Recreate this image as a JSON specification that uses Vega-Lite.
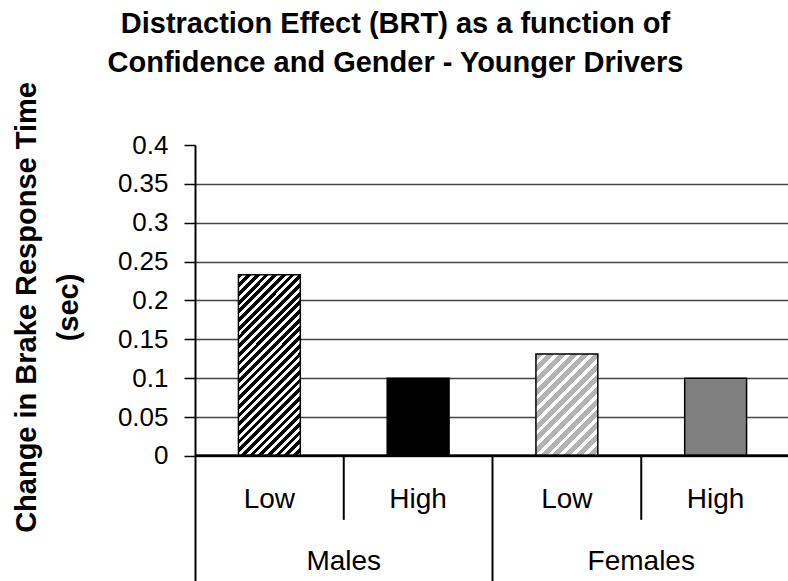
{
  "$schema": "https://vega.github.io/schema/vega-lite/v6.json",
  "autosize": {"type": "none"},
  "padding": {"left": 195, "top": 145, "right": 0, "bottom": 0},
  "width": 595,
  "height": 436,
  "background": "white",
  "config": {"font": "Liberation Sans", "view": {"stroke": null}},
  "title": {
    "text": ["Distraction Effect (BRT) as a function of", "Confidence and Gender - Younger Drivers"],
    "fontSize": 29,
    "fontWeight": "bold",
    "font": "Liberation Sans",
    "color": "#000000",
    "lineHeight": 39,
    "anchor": "middle",
    "frame": "bounds",
    "offset": 4,
    "dx": -6
  },
  "data": {
    "values": [
      {"gender": "Males", "confidence": "Low", "key": "Males Low", "brt": 0.233},
      {"gender": "Males", "confidence": "High", "key": "Males High", "brt": 0.1},
      {"gender": "Females", "confidence": "Low", "key": "Females Low", "brt": 0.131},
      {"gender": "Females", "confidence": "High", "key": "Females High", "brt": 0.1}
    ]
  },
  "layer": [
    {
      "mark": {"type": "bar", "width": {"band": 0.416}, "stroke": "#000000", "strokeWidth": 1.5},
      "encoding": {
        "x": {
          "field": "key", "type": "nominal", "axis": null,
          "scale": {"domain": ["Males Low", "Males High", "Females Low", "Females High"], "paddingInner": 0, "paddingOuter": 0}
        },
        "y": {
          "field": "brt", "type": "quantitative",
          "scale": {"domain": [-0.161, 0.4], "nice": false, "zero": false},
          "axis": {
            "values": [0, 0.05, 0.1, 0.15, 0.2, 0.25, 0.3, 0.35, 0.4],
            "format": "~g",
            "grid": true,
            "gridColor": "#444444",
            "gridWidth": 1.5,
            "gridOpacity": {"condition": {"test": "datum.value >= 0.39", "value": 0}, "value": 1},
            "domainColor": "#000000",
            "domainWidth": 2,
            "tickColor": "#000000",
            "tickWidth": 1.5,
            "tickSize": 11,
            "labelFontSize": 26,
            "labelColor": "#000000",
            "labelPadding": 16,
            "labelFlush": false,
            "labelOverlap": false,
            "title": ["Change in Brake Response Time", "(sec)"],
            "titleFontSize": 29,
            "titleFontWeight": "bold",
            "titleColor": "#000000",
            "titleAngle": 270,
            "titleAlign": "center",
            "titleBaseline": "alphabetic",
            "titleLineHeight": 42,
            "titleX": -160,
            "titleY": 162
          }
        },
        "fill": {
          "condition": [
            {"test": "datum.key === 'Males Low'", "value": {
              "gradient": "linear", "x1": 0, "y1": 0, "x2": 0.4116, "y2": 1.2016,
              "stops": [
                {"offset": 0, "color": "#000"}, {"offset": 0.0196, "color": "#000"}, {"offset": 0.0196, "color": "#fff"}, {"offset": 0.0357, "color": "#fff"},
                {"offset": 0.0357, "color": "#000"}, {"offset": 0.0554, "color": "#000"}, {"offset": 0.0554, "color": "#fff"}, {"offset": 0.0714, "color": "#fff"},
                {"offset": 0.0714, "color": "#000"}, {"offset": 0.0911, "color": "#000"}, {"offset": 0.0911, "color": "#fff"}, {"offset": 0.1071, "color": "#fff"},
                {"offset": 0.1071, "color": "#000"}, {"offset": 0.1268, "color": "#000"}, {"offset": 0.1268, "color": "#fff"}, {"offset": 0.1429, "color": "#fff"},
                {"offset": 0.1429, "color": "#000"}, {"offset": 0.1625, "color": "#000"}, {"offset": 0.1625, "color": "#fff"}, {"offset": 0.1786, "color": "#fff"},
                {"offset": 0.1786, "color": "#000"}, {"offset": 0.1982, "color": "#000"}, {"offset": 0.1982, "color": "#fff"}, {"offset": 0.2143, "color": "#fff"},
                {"offset": 0.2143, "color": "#000"}, {"offset": 0.2339, "color": "#000"}, {"offset": 0.2339, "color": "#fff"}, {"offset": 0.25, "color": "#fff"},
                {"offset": 0.25, "color": "#000"}, {"offset": 0.2696, "color": "#000"}, {"offset": 0.2696, "color": "#fff"}, {"offset": 0.2857, "color": "#fff"},
                {"offset": 0.2857, "color": "#000"}, {"offset": 0.3054, "color": "#000"}, {"offset": 0.3054, "color": "#fff"}, {"offset": 0.3214, "color": "#fff"},
                {"offset": 0.3214, "color": "#000"}, {"offset": 0.3411, "color": "#000"}, {"offset": 0.3411, "color": "#fff"}, {"offset": 0.3571, "color": "#fff"},
                {"offset": 0.3571, "color": "#000"}, {"offset": 0.3768, "color": "#000"}, {"offset": 0.3768, "color": "#fff"}, {"offset": 0.3929, "color": "#fff"},
                {"offset": 0.3929, "color": "#000"}, {"offset": 0.4125, "color": "#000"}, {"offset": 0.4125, "color": "#fff"}, {"offset": 0.4286, "color": "#fff"},
                {"offset": 0.4286, "color": "#000"}, {"offset": 0.4482, "color": "#000"}, {"offset": 0.4482, "color": "#fff"}, {"offset": 0.4643, "color": "#fff"},
                {"offset": 0.4643, "color": "#000"}, {"offset": 0.4839, "color": "#000"}, {"offset": 0.4839, "color": "#fff"}, {"offset": 0.5, "color": "#fff"},
                {"offset": 0.5, "color": "#000"}, {"offset": 0.5196, "color": "#000"}, {"offset": 0.5196, "color": "#fff"}, {"offset": 0.5357, "color": "#fff"},
                {"offset": 0.5357, "color": "#000"}, {"offset": 0.5554, "color": "#000"}, {"offset": 0.5554, "color": "#fff"}, {"offset": 0.5714, "color": "#fff"},
                {"offset": 0.5714, "color": "#000"}, {"offset": 0.5911, "color": "#000"}, {"offset": 0.5911, "color": "#fff"}, {"offset": 0.6071, "color": "#fff"},
                {"offset": 0.6071, "color": "#000"}, {"offset": 0.6268, "color": "#000"}, {"offset": 0.6268, "color": "#fff"}, {"offset": 0.6429, "color": "#fff"},
                {"offset": 0.6429, "color": "#000"}, {"offset": 0.6625, "color": "#000"}, {"offset": 0.6625, "color": "#fff"}, {"offset": 0.6786, "color": "#fff"},
                {"offset": 0.6786, "color": "#000"}, {"offset": 0.6982, "color": "#000"}, {"offset": 0.6982, "color": "#fff"}, {"offset": 0.7143, "color": "#fff"},
                {"offset": 0.7143, "color": "#000"}, {"offset": 0.7339, "color": "#000"}, {"offset": 0.7339, "color": "#fff"}, {"offset": 0.75, "color": "#fff"},
                {"offset": 0.75, "color": "#000"}, {"offset": 0.7696, "color": "#000"}, {"offset": 0.7696, "color": "#fff"}, {"offset": 0.7857, "color": "#fff"},
                {"offset": 0.7857, "color": "#000"}, {"offset": 0.8054, "color": "#000"}, {"offset": 0.8054, "color": "#fff"}, {"offset": 0.8214, "color": "#fff"},
                {"offset": 0.8214, "color": "#000"}, {"offset": 0.8411, "color": "#000"}, {"offset": 0.8411, "color": "#fff"}, {"offset": 0.8571, "color": "#fff"},
                {"offset": 0.8571, "color": "#000"}, {"offset": 0.8768, "color": "#000"}, {"offset": 0.8768, "color": "#fff"}, {"offset": 0.8929, "color": "#fff"},
                {"offset": 0.8929, "color": "#000"}, {"offset": 0.9125, "color": "#000"}, {"offset": 0.9125, "color": "#fff"}, {"offset": 0.9286, "color": "#fff"},
                {"offset": 0.9286, "color": "#000"}, {"offset": 0.9482, "color": "#000"}, {"offset": 0.9482, "color": "#fff"}, {"offset": 0.9643, "color": "#fff"},
                {"offset": 0.9643, "color": "#000"}, {"offset": 0.9839, "color": "#000"}, {"offset": 0.9839, "color": "#fff"}, {"offset": 1, "color": "#fff"}
              ]
            }},
            {"test": "datum.key === 'Males High'", "value": "#000000"},
            {"test": "datum.key === 'Females Low'", "value": {
              "gradient": "linear", "x1": 0, "y1": 0, "x2": 0.714, "y2": 1.174,
              "stops": [
                {"offset": 0, "color": "#b3b3b3"}, {"offset": 0.0429, "color": "#b3b3b3"}, {"offset": 0.0429, "color": "#fff"}, {"offset": 0.0714, "color": "#fff"},
                {"offset": 0.0714, "color": "#b3b3b3"}, {"offset": 0.1143, "color": "#b3b3b3"}, {"offset": 0.1143, "color": "#fff"}, {"offset": 0.1429, "color": "#fff"},
                {"offset": 0.1429, "color": "#b3b3b3"}, {"offset": 0.1857, "color": "#b3b3b3"}, {"offset": 0.1857, "color": "#fff"}, {"offset": 0.2143, "color": "#fff"},
                {"offset": 0.2143, "color": "#b3b3b3"}, {"offset": 0.2571, "color": "#b3b3b3"}, {"offset": 0.2571, "color": "#fff"}, {"offset": 0.2857, "color": "#fff"},
                {"offset": 0.2857, "color": "#b3b3b3"}, {"offset": 0.3286, "color": "#b3b3b3"}, {"offset": 0.3286, "color": "#fff"}, {"offset": 0.3571, "color": "#fff"},
                {"offset": 0.3571, "color": "#b3b3b3"}, {"offset": 0.4, "color": "#b3b3b3"}, {"offset": 0.4, "color": "#fff"}, {"offset": 0.4286, "color": "#fff"},
                {"offset": 0.4286, "color": "#b3b3b3"}, {"offset": 0.4714, "color": "#b3b3b3"}, {"offset": 0.4714, "color": "#fff"}, {"offset": 0.5, "color": "#fff"},
                {"offset": 0.5, "color": "#b3b3b3"}, {"offset": 0.5429, "color": "#b3b3b3"}, {"offset": 0.5429, "color": "#fff"}, {"offset": 0.5714, "color": "#fff"},
                {"offset": 0.5714, "color": "#b3b3b3"}, {"offset": 0.6143, "color": "#b3b3b3"}, {"offset": 0.6143, "color": "#fff"}, {"offset": 0.6429, "color": "#fff"},
                {"offset": 0.6429, "color": "#b3b3b3"}, {"offset": 0.6857, "color": "#b3b3b3"}, {"offset": 0.6857, "color": "#fff"}, {"offset": 0.7143, "color": "#fff"},
                {"offset": 0.7143, "color": "#b3b3b3"}, {"offset": 0.7571, "color": "#b3b3b3"}, {"offset": 0.7571, "color": "#fff"}, {"offset": 0.7857, "color": "#fff"},
                {"offset": 0.7857, "color": "#b3b3b3"}, {"offset": 0.8286, "color": "#b3b3b3"}, {"offset": 0.8286, "color": "#fff"}, {"offset": 0.8571, "color": "#fff"},
                {"offset": 0.8571, "color": "#b3b3b3"}, {"offset": 0.9, "color": "#b3b3b3"}, {"offset": 0.9, "color": "#fff"}, {"offset": 0.9286, "color": "#fff"},
                {"offset": 0.9286, "color": "#b3b3b3"}, {"offset": 0.9714, "color": "#b3b3b3"}, {"offset": 0.9714, "color": "#fff"}, {"offset": 1, "color": "#fff"}
              ]
            }}
          ],
          "value": "#808080"
        }
      }
    },
    {
      "mark": {"type": "rule", "color": "#000000", "strokeWidth": 2},
      "encoding": {"y": {"datum": 0, "type": "quantitative"}}
    },
    {
      "transform": [{"filter": "datum.confidence === 'High'"}],
      "mark": {"type": "rule", "color": "#000000", "strokeWidth": 2},
      "encoding": {
        "x": {"field": "key", "type": "nominal", "bandPosition": 0},
        "y": {"datum": 0, "type": "quantitative"},
        "y2": {"datum": -0.0823}
      }
    },
    {
      "transform": [{"filter": "datum.key === 'Females Low'"}],
      "mark": {"type": "rule", "color": "#000000", "strokeWidth": 2},
      "encoding": {
        "x": {"field": "key", "type": "nominal", "bandPosition": 0},
        "y": {"datum": 0, "type": "quantitative"},
        "y2": {"datum": -0.161}
      }
    },
    {
      "mark": {"type": "text", "fontSize": 28, "color": "#000000", "baseline": "alphabetic", "align": "center"},
      "encoding": {
        "x": {"field": "key", "type": "nominal"},
        "y": {"datum": -0.0669, "type": "quantitative"},
        "text": {"field": "confidence"}
      }
    },
    {
      "transform": [{"filter": "datum.confidence === 'High'"}],
      "mark": {"type": "text", "fontSize": 28, "color": "#000000", "baseline": "alphabetic", "align": "center"},
      "encoding": {
        "x": {"field": "key", "type": "nominal", "bandPosition": 0},
        "y": {"datum": -0.1466, "type": "quantitative"},
        "text": {"field": "gender"}
      }
    }
  ]
}
